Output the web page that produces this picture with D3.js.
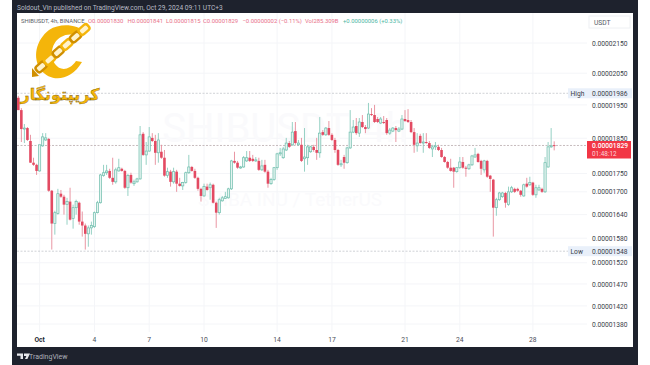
<!DOCTYPE html>
<html>
<head>
<meta charset="utf-8">
<script src="https://cdn.jsdelivr.net/npm/d3@7"></script>
<style>
html, body { margin: 0; padding: 0; background: #fff; }
svg { display: block; }
text { font-family: Roboto, sans-serif; }
</style>
</head>
<body>
<script>
// prices are in units of 0.00000001 USDT
const opens = [1972,1934,1877,1880,1842,1780,1774,1757,1828,1845,1848,1703,1617,1643,1695,1687,1666,1674,1630,1658,1671,1622,1612,1591,1606,1609,1645,1671,1744,1752,1757,1738,1727,1757,1763,1757,1711,1746,1722,1727,1735,1863,1802,1813,1851,1842,1808,1811,1794,1744,1755,1727,1755,1722,1716,1725,1752,1768,1757,1738,1708,1689,1714,1711,1719,1671,1645,1676,1682,1684,1708,1785,1780,1766,1768,1785,1794,1791,1785,1785,1760,1774,1755,1722,1733,1766,1805,1794,1816,1836,1831,1871,1831,1831,1791,1794,1811,1825,1816,1808,1868,1860,1880,1860,1845,1816,1774,1796,1780,1822,1868,1886,1865,1898,1883,1880,1922,1919,1907,1895,1898,1904,1865,1871,1880,1871,1877,1907,1904,1898,1868,1828,1857,1836,1839,1836,1819,1825,1825,1816,1796,1782,1766,1766,1755,1766,1782,1766,1763,1774,1796,1805,1785,1760,1785,1744,1733,1658,1679,1687,1697,1666,1700,1708,1708,1703,1689,1722,1719,1725,1692,1705,1708,1700,1768,1825,1830];
const highs = [1978,1940,1892,1883,1860,1794,1777,1831,1865,1865,1851,1705,1650,1708,1705,1692,1684,1711,1666,1679,1674,1648,1617,1612,1622,1648,1676,1749,1774,1774,1763,1794,1766,1791,1766,1760,1749,1752,1733,1738,1886,1868,1839,1883,1865,1860,1865,1831,1816,1766,1760,1766,1760,1738,1727,1755,1802,1771,1763,1741,1711,1722,1722,1725,1722,1674,1684,1689,1700,1711,1788,1811,1785,1771,1799,1813,1813,1802,1796,1794,1788,1788,1760,1738,1768,1808,1822,1825,1851,1842,1898,1898,1845,1851,1880,1831,1828,1831,1851,1913,1874,1883,1901,1865,1851,1819,1788,1802,1825,1934,1904,1910,1910,1919,1889,1956,1940,1950,1913,1913,1916,1910,1880,1883,1886,1883,1919,1934,1937,1904,1880,1865,1863,1865,1865,1842,1831,1839,1831,1822,1799,1785,1791,1768,1768,1796,1796,1771,1777,1802,1822,1808,1788,1788,1788,1746,1735,1684,1700,1700,1700,1714,1716,1711,1711,1705,1722,1738,1741,1727,1719,1719,1711,1796,1839,1880,1841];
const lows = [1934,1839,1836,1842,1780,1771,1746,1755,1825,1842,1700,1552,1589,1640,1684,1640,1614,1625,1604,1640,1614,1584,1552,1559,1589,1606,1643,1669,1741,1746,1735,1719,1722,1755,1755,1708,1689,1722,1716,1725,1733,1799,1774,1811,1839,1774,1780,1791,1741,1738,1714,1722,1700,1714,1705,1722,1749,1755,1735,1703,1674,1687,1703,1679,1669,1606,1640,1674,1682,1682,1705,1777,1763,1763,1766,1782,1782,1782,1782,1757,1757,1752,1711,1719,1730,1760,1799,1791,1813,1822,1828,1831,1828,1782,1755,1774,1808,1811,1788,1794,1857,1857,1857,1842,1808,1771,1768,1763,1777,1819,1865,1860,1854,1880,1865,1877,1916,1895,1895,1892,1892,1860,1860,1868,1839,1868,1874,1898,1895,1865,1808,1811,1834,1808,1834,1819,1796,1816,1813,1794,1780,1763,1755,1711,1752,1763,1763,1741,1760,1771,1794,1780,1746,1752,1738,1700,1584,1637,1676,1684,1658,1663,1697,1697,1700,1687,1687,1711,1716,1689,1684,1703,1697,1697,1766,1822,1815];
const closes = [1934,1877,1880,1845,1780,1774,1757,1831,1854,1851,1703,1617,1645,1695,1687,1666,1674,1627,1658,1674,1622,1612,1591,1606,1612,1645,1671,1746,1752,1757,1738,1727,1760,1766,1757,1711,1744,1725,1727,1735,1860,1802,1813,1854,1842,1808,1845,1794,1744,1755,1727,1755,1722,1716,1725,1752,1768,1757,1738,1708,1689,1714,1705,1719,1671,1645,1679,1684,1687,1708,1785,1780,1766,1768,1794,1794,1785,1785,1788,1760,1771,1755,1722,1733,1766,1805,1808,1819,1836,1825,1868,1836,1836,1785,1796,1825,1825,1816,1808,1865,1860,1880,1860,1845,1816,1774,1777,1780,1822,1868,1883,1865,1898,1883,1877,1922,1919,1898,1898,1907,1895,1865,1874,1880,1874,1877,1907,1901,1898,1868,1831,1836,1836,1839,1836,1822,1825,1828,1816,1796,1782,1766,1757,1755,1766,1782,1766,1763,1774,1799,1802,1782,1763,1785,1741,1735,1658,1679,1697,1697,1671,1700,1711,1700,1703,1692,1719,1714,1725,1692,1711,1711,1700,1780,1825,1828,1829];

const dayLabels = ["Oct", "4", "7", "10", "14", "17", "21", "24", "28"];
const dayIndex = [7, 25, 43, 61, 85, 103, 127, 145, 169];
const priceTicks = [2150, 2050, 1950, 1850, 1750, 1700, 1640, 1580, 1520, 1470, 1420, 1380];
const lastPrice = 1829, highPrice = 1986, lowPrice = 1548;

const width = 650, height = 365;
const dark = "#1e222d", upColor = "#6dbdac", downColor = "#e34a62";
const fmt = (v) => (v / 1e8).toFixed(8);

const svg = d3.select("body").append("svg").attr("width", width).attr("height", height);

svg.append("rect").attr("x", 12).attr("y", 0).attr("width", 626).attr("height", height).attr("fill", dark);
svg.append("rect").attr("x", 17).attr("y", 13).attr("width", 616).attr("height", 334).attr("fill", "#fff");

const x = d3.scaleLinear().domain([0, 176]).range([18.3, 554.2]);
const y = d3.scaleLog().domain([1380, 2150]).range([324, 43]);

// grid
svg.append("g").selectAll("line").data(priceTicks).join("line")
    .attr("x1", 17).attr("x2", 587).attr("y1", (d) => y(d)).attr("y2", (d) => y(d))
    .attr("stroke", "#f4f5f8");
svg.append("g").selectAll("line").data(dayIndex).join("line")
    .attr("x1", (d) => x(d)).attr("x2", (d) => x(d)).attr("y1", 13).attr("y2", 332)
    .attr("stroke", "#f4f5f8");

// watermark
const mark = svg.append("g").attr("fill", "#fafafc").attr("text-anchor", "middle");
mark.append("text").attr("x", 285).attr("y", 142).attr("font-size", 40).text("SHIBUSDT, 4h");
mark.append("text").attr("x", 290).attr("y", 206).attr("font-size", 19).text("SHIBA INU / TetherUS");

// high, low and last price lines
svg.append("g").selectAll("line").data([highPrice, lowPrice]).join("line")
    .attr("x1", 17).attr("x2", 568).attr("y1", (d) => y(d)).attr("y2", (d) => y(d))
    .attr("stroke", "#c4c6cc").attr("stroke-dasharray", "2 1.5").attr("stroke-width", 0.8);
svg.append("line").attr("x1", 17).attr("x2", 587).attr("y1", y(lastPrice)).attr("y2", y(lastPrice))
    .attr("stroke", "#b9a9ac").attr("stroke-dasharray", "2 1.5").attr("stroke-width", 0.8);

// candles
const candles = d3.range(opens.length);
const isUp = (i) => closes[i] >= opens[i];
svg.append("g").selectAll("line").data(candles).join("line")
    .attr("x1", (i) => x(i)).attr("x2", (i) => x(i))
    .attr("y1", (i) => y(highs[i])).attr("y2", (i) => y(lows[i]))
    .attr("stroke", (i) => isUp(i) ? "#8accbd" : "#e78a98").attr("stroke-width", 0.9);
svg.append("g").selectAll("rect").data(candles).join("rect")
    .attr("x", (i) => x(i) - (isUp(i) ? 1.1 : 1.3))
    .attr("width", (i) => isUp(i) ? 2.2 : 2.6)
    .attr("y", (i) => y(Math.max(opens[i], closes[i])))
    .attr("height", (i) => Math.max(1, Math.abs(y(opens[i]) - y(closes[i]))))
    .attr("fill", (i) => isUp(i) ? "#e4f4f0" : downColor)
    .attr("stroke", (i) => isUp(i) ? upColor : "none").attr("stroke-width", 0.7);

// price scale
const priceAxis = d3.axisRight(y).tickValues(priceTicks).tickFormat(fmt).tickSize(0).tickPadding(0);
const axisG = svg.append("g").attr("transform", "translate(592,0)").call(priceAxis);
axisG.select(".domain").remove();
axisG.selectAll("text").attr("font-size", 6.7).attr("fill", "#3a3e48").style("font-family", "Roboto, sans-serif");

svg.append("rect").attr("x", 589).attr("y", 16).attr("width", 41).attr("height", 12).attr("fill", "#fff").attr("stroke", "#eef0f3");
svg.append("text").attr("x", 594).attr("y", 24.5).attr("font-size", 6.7).attr("fill", "#555a66").text("USDT");

[["High", highPrice], ["Low", lowPrice]].forEach(([name, v]) => {
    svg.append("rect").attr("x", 568).attr("y", y(v) - 5).attr("width", 64).attr("height", 10).attr("fill", "#e9f0fa");
    svg.append("text").attr("x", 570.5).attr("y", y(v) + 2.4).attr("font-size", 6.7).attr("fill", "#3a3e48").text(name);
    svg.append("text").attr("x", 592).attr("y", y(v) + 2.4).attr("font-size", 6.7).attr("fill", "#3a3e48").text(fmt(v));
});

svg.append("rect").attr("x", 587).attr("y", 141).attr("width", 44).attr("height", 17.5).attr("fill", "#f23645");
svg.append("text").attr("x", 592).attr("y", 148).attr("font-size", 6.7).attr("font-weight", 500).attr("fill", "#fff").text(fmt(lastPrice));
svg.append("text").attr("x", 592).attr("y", 155.5).attr("font-size", 6.4).attr("fill", "#fbd5d9").text("01:48:12");

// time scale
svg.append("g").selectAll("text").data(dayIndex).join("text")
    .attr("x", (d) => x(d)).attr("y", 341.5).attr("text-anchor", "middle").attr("font-size", 6.7)
    .attr("font-weight", (d, i) => i === 0 ? 700 : 400).attr("fill", (d, i) => i === 0 ? "#23262f" : "#4a4e58")
    .text((d, i) => dayLabels[i]);

// header and legend
svg.append("text").attr("x", 17).attr("y", 9.5).attr("font-size", 6.6).attr("fill", "#b9bcc6")
    .text("Soldout_Vin published on TradingView.com, Oct 29, 2024 09:11 UTC+3");
const red = "#e8708a", teal = "#4db6a4";
[[21, "SHIBUSDT, 4h, BINANCE", "#5a5e68"], [88, "O0.00001830", red], [127.5, "H0.00001841", red], [166, "L0.00001815", red],
    [203, "C0.00001829", red], [242.5, "\u22120.00000002 (\u22120.11%)", red], [305, "Vol285.309B", red], [343, "+0.00000006 (+0.33%)", teal]]
    .forEach(([px, t, c]) => {
        svg.append("text").attr("x", px).attr("y", 23.2).attr("font-size", 5.9).attr("fill", c).text(t);
    });

// footer
const tv = svg.append("g").attr("fill", "#e6e7eb");
tv.append("path").attr("d", "M17 353.5h6v5.5h-2.5v-3.2H17z M24 353.5h6l-2.6 5.5h-2.4l1.4-3h-2.4z");
svg.append("text").attr("x", 29).attr("y", 359).attr("font-size", 7).attr("fill", "#aeb1bb").text("TradingView");

// logo
const gold = "#f4b50a", goldDark = "#d08f00";
const logo = svg.append("g");
logo.append("path").attr("fill", gold)
    .attr("d", "M86 32 C76 24 60 23 49 30 C36 40 32 58 41 70 C51 83 71 81 82 62 L76 61 C69 71 60 71 55 64 C49 55 52 42 61 37 C68 33 76 34 80 39 Z");
d3.range(6).forEach((k) => {
    const cx = 41 + k * 8.6, cy = 67 - k * 7.5;
    logo.append("rect").attr("x", -5.5).attr("y", -3.5).attr("width", 11).attr("height", 7).attr("rx", 2.5)
        .attr("transform", `translate(${cx},${cy}) rotate(-41)`)
        .attr("fill", "#fff3cc").attr("stroke", k % 2 ? gold : goldDark).attr("stroke-width", 2.4);
});
logo.append("path").attr("fill", goldDark).attr("d", "M32 68 L39 76 L32 77 Z");
logo.append("text").attr("x", 60).attr("y", 100).attr("text-anchor", "middle").attr("font-size", 16)
    .attr("font-weight", 700).style("font-family", "'DejaVu Sans', sans-serif").attr("direction", "rtl")
    .attr("fill", gold).attr("stroke", "#6a4c00").attr("stroke-width", 0.3).text("کریپتونگار");
</script>
</body>
</html>
